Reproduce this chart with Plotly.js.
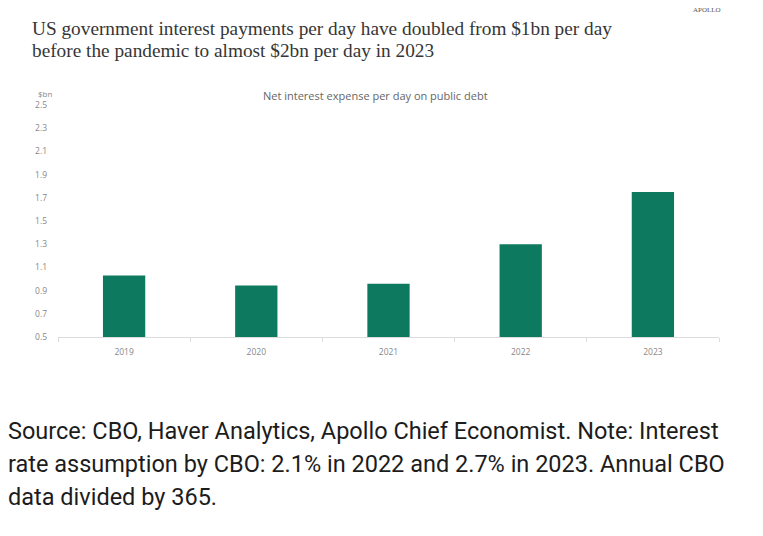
<!DOCTYPE html>
<html>
<head>
<meta charset="utf-8">
<script src="https://cdn.plot.ly/plotly-3.0.1.min.js"></script>
<style>html,body{margin:0;padding:0;background:#fff;}#chart{width:763px;height:536px;}</style>
</head>
<body>
<div id="chart"></div>
<script>
const years = ["2019", "2020", "2021", "2022", "2023"];
const interestPerDay = [1.03, 0.945, 0.96, 1.30, 1.75];
const yTicks = [0.5, 0.7, 0.9, 1.1, 1.3, 1.5, 1.7, 1.9, 2.1, 2.3, 2.5];
const titleLines = ["US government interest payments per day have doubled from $1bn per day", "before the pandemic to almost $2bn per day in 2023"];
const chartSubtitle = "Net interest expense per day on public debt";
const unitLabel = "$bn";
const brand = "APOLLO";
const footerLines = [
  "Source: CBO, Haver Analytics, Apollo Chief Economist. Note: Interest",
  "rate assumption by CBO: 2.1% in 2022 and 2.7% in 2023. Annual CBO",
  "data divided by 365."
];

const W = 763, H = 536;
const L = 58, R = 44, T = 105, B = 199;
const pw = W - L - R, ph = H - T - B;
const px = x => (x - L) / pw;
const py = y => (H - B - y) / ph;

const annotations = [
  {text: titleLines[0], x: px(30), y: py(28), xanchor: 'left', yanchor: 'middle',
   font: {family: 'Liberation Serif, serif', size: 19.3, color: '#363636'}},
  {text: titleLines[1], x: px(30), y: py(50), xanchor: 'left', yanchor: 'middle',
   font: {family: 'Liberation Serif, serif', size: 19.3, color: '#363636'}},
  {text: brand, x: px(707), y: py(10), xanchor: 'center', yanchor: 'middle',
   font: {family: 'Liberation Serif, serif', size: 7, color: '#555'}},
  {text: chartSubtitle, x: px(375), y: py(95), xanchor: 'center', yanchor: 'middle',
   font: {family: 'Open Sans, sans-serif', size: 11, color: '#666'}},
  {text: unitLabel, x: px(36), y: py(93), xanchor: 'left', yanchor: 'middle',
   font: {family: 'Open Sans, sans-serif', size: 8, color: '#888'}},
  ...footerLines.map((t, i) => ({text: t, x: px(6), y: py(431 + 33 * i), xanchor: 'left', yanchor: 'middle',
   font: {family: 'Roboto, sans-serif', size: 23.5, color: '#1c1c1c'}}))
].map(a => Object.assign({xref: 'paper', yref: 'paper', showarrow: false}, a));

const data = [{
  type: 'bar', x: years, y: interestPerDay,
  marker: {color: '#0d7a5f', line: {width: 0}},
  base: 0, hoverinfo: 'skip'
}];

const layout = {
  width: W, height: H,
  margin: {l: L, r: R, t: T, b: B, pad: 0},
  paper_bgcolor: '#fff', plot_bgcolor: '#fff',
  showlegend: false,
  bargap: 0.68,
  xaxis: {
    type: 'category', showgrid: false, zeroline: false,
    showline: true, linecolor: '#dcdcdc', linewidth: 1,
    ticks: 'outside', tickson: 'boundaries', ticklen: 4, tickcolor: '#dcdcdc',
    tickfont: {family: 'Open Sans, sans-serif', size: 8.5, color: '#888'},
    ticklabelstandoff: 7
  },
  yaxis: {
    range: [0.5, 2.5], tickvals: yTicks, ticktext: yTicks.map(v => v.toFixed(1)),
    showgrid: false, zeroline: false, showline: false, ticks: '',
    tickfont: {family: 'Open Sans, sans-serif', size: 8.5, color: '#888'},
    ticklabelstandoff: 10
  },
  annotations: annotations
};

Plotly.newPlot('chart', data, layout, {displayModeBar: false, staticPlot: true});
</script>
</body>
</html>
